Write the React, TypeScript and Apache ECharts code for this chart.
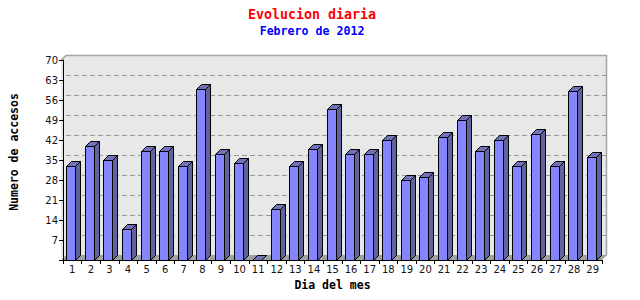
import React, { useEffect, useRef } from 'react';
import * as echarts from 'echarts';

const titleText = 'Evolucion diaria';
const subtitleText = 'Febrero de 2012';
const xAxisName = 'Dia del mes';
const yAxisName = 'Numero de accesos';

const days = ['1', '2', '3', '4', '5', '6', '7', '8', '9', '10', '11', '12', '13', '14', '15', '16', '17', '18', '19', '20', '21', '22', '23', '24', '25', '26', '27', '28', '29'];
const visits = [33, 40, 35, 11, 38, 38, 33, 60, 37, 34, 0, 18, 33, 39, 53, 37, 37, 42, 28, 29, 43, 49, 38, 42, 33, 44, 33, 59, 36];

const yMin = 0;
const yMax = 70;
const yStep = 7;

const G = { left: 61, top: 60, width: 541, height: 200 };
const D = 5;
const FRONT = '#8585ff';
const TOP = '#7272b8';
const SIDE = '#62629c';
const PLANE = '#e8e8e8';
const FLOOR = '#a0a0a0';
const BORDER = '#a4a4a4';

export default function App() {
  const ref = useRef<HTMLDivElement>(null);
  useEffect(() => {
    document.body.style.margin = '0';
    if (!ref.current) return;
    const chart = echarts.init(ref.current, undefined, { renderer: 'svg' });
    const right = G.left + G.width;
    const bottom = G.top + G.height;
    const option: any = {
      animation: false,
      backgroundColor: '#ffffff',
      title: {
        text: titleText,
        subtext: subtitleText,
        left: 307,
        top: 3,
        textAlign: 'center',
        itemGap: 4,
        textStyle: { color: '#ff0000', fontFamily: 'DejaVu Sans Mono', fontWeight: 'bold', fontSize: 13.3 },
        subtextStyle: { color: '#0000ff', fontFamily: 'DejaVu Sans Mono', fontWeight: 'bold', fontSize: 11.6 },
      },
      grid: [
        { left: G.left, top: G.top, width: G.width, height: G.height, containLabel: false },
        {
          left: G.left + D, top: G.top - D, width: G.width, height: G.height, containLabel: false,
          show: true, backgroundColor: PLANE, borderWidth: 0,
        },
      ],
      xAxis: [
        {
          type: 'category', gridIndex: 0, data: days,
          axisLine: { lineStyle: { color: '#000', width: 1 }, onZero: false },
          axisTick: { show: true, interval: 0, length: 4, lineStyle: { color: '#000' } },
          axisLabel: { interval: 0, color: '#111', fontFamily: 'DejaVu Sans', fontSize: 10, margin: 4 },
          name: xAxisName, nameLocation: 'middle', nameGap: 12,
          nameTextStyle: { color: '#000', fontFamily: 'DejaVu Sans Mono', fontWeight: 'bold', fontSize: 11.5 },
          z: 10,
        },
        { type: 'category', gridIndex: 1, data: days, show: false },
      ],
      yAxis: [
        {
          type: 'value', gridIndex: 0, min: yMin, max: yMax, interval: yStep,
          axisLine: { show: true, lineStyle: { color: '#000', width: 1 } },
          axisTick: { show: true, length: 4, lineStyle: { color: '#000' } },
          axisLabel: {
            color: '#111', fontFamily: 'DejaVu Sans', fontSize: 10, margin: 5,
            formatter: (v: number) => (v === 0 ? '' : String(v)),
          },
          splitLine: { show: false },
          name: yAxisName, nameLocation: 'middle', nameGap: 43, nameRotate: 90,
          nameTextStyle: {
            color: '#000', fontFamily: 'DejaVu Sans Mono', fontWeight: 'bold', fontSize: 11.5,
            padding: [0, 0, 0, 16],
          },
          z: 10,
        },
        {
          type: 'value', gridIndex: 1, min: yMin, max: yMax, interval: yStep,
          axisLine: { show: false }, axisTick: { show: false }, axisLabel: { show: false },
          splitLine: { show: true, lineStyle: { color: '#999', type: [5, 3], width: 1 } },
        },
      ],
      graphic: [
        {
          type: 'polygon', z: 1, silent: true,
          shape: { points: [[G.left, G.top], [G.left + D, G.top - D], [G.left + D, bottom - D], [G.left, bottom]] },
          style: { fill: PLANE },
        },
        {
          type: 'polygon', z: 1, silent: true,
          shape: { points: [[G.left, bottom], [right, bottom], [right + D, bottom - D], [G.left + D, bottom - D]] },
          style: { fill: FLOOR },
        },
        {
          type: 'polyline', z: 1, silent: true,
          shape: { points: [[G.left, G.top], [G.left + D, G.top - D + 0.5], [right + D - 0.5, G.top - D + 0.5], [right + D - 0.5, bottom - D]] },
          style: { stroke: BORDER, lineWidth: 1.5, fill: null },
        },
      ],
      series: [
        {
          type: 'custom', xAxisIndex: 0, yAxisIndex: 0, z: 5, clip: false,
          data: visits.map((v, i) => [i, v]),
          encode: { x: 0, y: 1 },
          renderItem: (params: any, api: any) => {
            const idx = api.value(0);
            const v = api.value(1);
            const topPt = api.coord([idx, v]);
            const basePt = api.coord([idx, 0]);
            const bw = api.size([1, 0])[0];
            const w = 9;
            const x0 = Math.round(topPt[0] - bw / 2 + 3.3) + 0.5;
            const yT = Math.round(topPt[1]) + 0.5;
            const yB = Math.round(basePt[1]) + 0.5;
            const s = { stroke: '#000', lineWidth: 1 };
            return {
              type: 'group',
              children: [
                {
                  type: 'polygon',
                  shape: { points: [[x0 + w, yT], [x0 + w + D, yT - D], [x0 + w + D, yB - D], [x0 + w, yB]] },
                  style: { fill: SIDE, ...s },
                },
                {
                  type: 'polygon',
                  shape: { points: [[x0, yT], [x0 + D, yT - D], [x0 + w + D, yT - D], [x0 + w, yT]] },
                  style: { fill: TOP, ...s },
                },
                {
                  type: 'rect',
                  shape: { x: x0, y: yT, width: w, height: yB - yT },
                  style: { fill: FRONT, ...s },
                },
              ],
            };
          },
        },
      ],
    };
    chart.setOption(option);
    return () => chart.dispose();
  }, []);
  return <div ref={ref} style={{ width: 640, height: 300 }} />;
}
